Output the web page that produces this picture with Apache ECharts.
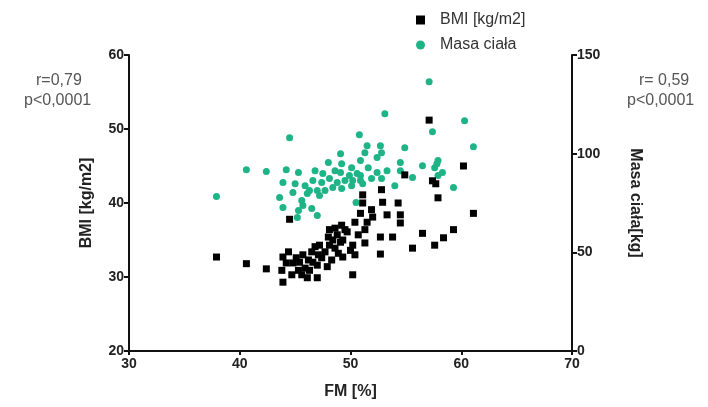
<!DOCTYPE html>
<html>
<head>
<meta charset="utf-8">
<script src="https://cdn.jsdelivr.net/npm/echarts@6/dist/echarts.min.js"></script>
<style>
html,body{margin:0;padding:0;background:#fff;}
#c{width:708px;height:407px;}
</style>
</head>
<body>
<div id="c"></div>
<script>
// FM [%] and BMI [kg/m2] (black squares)
var fmBMI = [37.9,40.6,42.4,44.5,43.9,43.8,44.4,43.9,44.8,45.3,45.6,46.1,46.2,46.5,46.8,47.0,47.4,47.7,48.1,48.0,48.8,49.1,48.9,48.3,47.9,47.0,48.1,49.5,49.3,49.7,50.2,49.3,50.4,50.4,50.7,50.9,51.1,51.1,51.3,51.3,51.5,51.9,52.0,52.8,52.9,53.3,54.3,54.5,54.5,52.7,53.8,52.7,50.2,54.9,55.6,56.5,57.1,57.4,57.7,57.9,58.4,57.6,59.3,60.2,61.1,45.1,45.9,46.3,47.2,48.6,50.0,44.7,45.4,44.2,45.7,47.1,46.6,48.4,48.6,49.2];
var bmi   = [32.7,31.8,31.1,37.8,29.3,30.9,33.4,32.7,31.9,30.9,30.3,29.9,32.3,33.4,34.1,31.6,32.6,33.4,34.3,35.4,35.7,34.7,33.2,32.3,31.4,29.9,36.4,36.4,35.0,36.1,34.3,32.7,33.0,37.4,35.7,38.6,41.1,40.0,36.4,34.6,37.4,39.1,38.1,41.8,40.1,38.4,40.0,38.4,37.3,35.4,35.4,33.1,30.3,43.8,33.9,35.9,51.2,43.0,42.6,40.7,35.3,34.3,36.4,45.0,38.6,32.6,31.2,30.9,34.3,33.9,33.6,30.3,32.0,31.9,33.0,33.0,32.0,35.0,36.6,37.0];
// FM [%] and body mass [kg] (green circles)
var fmMass = [37.9,40.6,42.4,44.5,44.2,45.3,43.9,45.0,43.6,44.8,43.9,45.3,45.6,45.7,46.5,47.0,46.1,46.3,47.0,47.7,48.4,49.2,46.6,47.4,48.1,48.8,49.5,50.1,50.9,46.8,47.5,48.0,48.6,49.1,49.2,50.1,50.6,50.8,50.5,53.1,57.4,51.5,52.7,51.3,52.8,54.9,50.9,52.4,54.5,56.5,57.8,51.6,54.5,52.4,53.3,50.9,51.9,50.2,52.8,55.6,54.0,51.1,57.1,60.3,61.1,57.9,57.6,58.3,57.9,59.3,45.2,45.9,47.2,49.1,49.9];
var mass   = [78.3,91.9,90.9,108.1,91.9,90.4,85.4,84.8,77.8,80.3,72.7,71.2,76.3,73.7,72.2,68.7,79.8,81.3,81.3,81.3,82.8,82.3,86.4,85.4,87.4,85.4,86.4,83.8,86.4,91.4,89.9,95.5,91.4,100.0,94.9,92.9,89.9,109.6,75.3,120.2,111.1,104.0,104.0,100.5,100.5,103.0,96.5,98.0,95.5,93.9,94.9,92.9,91.4,90.4,91.4,88.9,87.4,86.4,87.4,87.9,83.8,84.8,136.4,116.7,103.5,96.5,92.9,90.4,88.9,82.8,67.7,83.8,78.8,90.4,88.9];

var seriesNames = ['BMI [kg/m2]', 'Masa ciała'];
var xTicks = [30, 40, 50, 60, 70];
var yLeftTicks = [20, 30, 40, 50, 60];
var yRightTicks = [0, 50, 100, 150];

function pairs(xs, ys){ return xs.map(function(x,i){ return [x, ys[i]]; }); }

var chart = echarts.init(document.getElementById('c'), null, {renderer:'canvas'});
var axisFont = 'Liberation Sans, Arial, sans-serif';
var green = '#1fb487';

chart.setOption({
  animation: false,
  backgroundColor: '#ffffff',
  grid: {left: 129, right: 136, top: 55, bottom: 56, containLabel: false},
  legend: {
    data: [{name: seriesNames[0], icon: 'rect'}, {name: seriesNames[1], icon: 'circle'}],
    orient: 'vertical', left: 411, top: 7,
    itemWidth: 9, itemHeight: 9, itemGap: 9,
    textStyle: {fontFamily: axisFont, fontSize: 16, color: '#333', padding: [0,0,0,10]}
  },
  xAxis: {
    type: 'value', min: xTicks[0], max: xTicks[xTicks.length-1], interval: 10,
    name: 'FM [%]', nameLocation: 'middle', nameGap: 33,
    nameTextStyle: {fontFamily: axisFont, fontSize: 16, fontWeight: 'bold', color: '#222'},
    axisLine: {show: true, onZero: false, lineStyle: {color: '#111', width: 2}},
    axisTick: {show: true, length: 4, lineStyle: {color: '#111', width: 2}},
    axisLabel: {fontFamily: axisFont, fontSize: 14, fontWeight: 'bold', color: '#222', margin: 6},
    splitLine: {show: false}
  },
  yAxis: [{
    type: 'value', min: yLeftTicks[0], max: yLeftTicks[yLeftTicks.length-1], interval: 10,
    position: 'left',
    name: 'BMI [kg/m2]', nameLocation: 'middle', nameGap: 34,
    nameTextStyle: {fontFamily: axisFont, fontSize: 16, fontWeight: 'bold', color: '#222'},
    axisLine: {show: true, onZero: false, lineStyle: {color: '#111', width: 2}},
    axisTick: {show: true, length: 5, lineStyle: {color: '#111', width: 2}},
    axisLabel: {fontFamily: axisFont, fontSize: 14, fontWeight: 'bold', color: '#222', margin: 5},
    splitLine: {show: false}
  }, {
    type: 'value', min: yRightTicks[0], max: yRightTicks[yRightTicks.length-1], interval: 50,
    position: 'right',
    name: 'Masa ciała[kg]', nameLocation: 'middle', nameGap: 55, nameRotate: -90,
    nameTextStyle: {fontFamily: axisFont, fontSize: 16, fontWeight: 'bold', color: '#222'},
    axisLine: {show: true, onZero: false, lineStyle: {color: '#111', width: 2}},
    axisTick: {show: true, length: 5, lineStyle: {color: '#111', width: 2}},
    axisLabel: {fontFamily: axisFont, fontSize: 14, fontWeight: 'bold', color: '#222', margin: 5},
    splitLine: {show: false}
  }],
  series: [{
    name: seriesNames[1], type: 'scatter', yAxisIndex: 1,
    symbol: 'circle', symbolSize: 7, z: 2,
    itemStyle: {color: green, opacity: 1},
    data: pairs(fmMass, mass)
  }, {
    name: seriesNames[0], type: 'scatter', yAxisIndex: 0,
    symbol: 'rect', symbolSize: 7, z: 3,
    itemStyle: {color: '#000', opacity: 1},
    data: pairs(fmBMI, bmi)
  }],
  graphic: [
    {type: 'text', left: 36, top: 73, style: {text: 'r=0,79', font: '16px Liberation Sans, Arial, sans-serif', fill: '#555'}},
    {type: 'text', left: 24, top: 93, style: {text: 'p<0,0001', font: '16px Liberation Sans, Arial, sans-serif', fill: '#555'}},
    {type: 'text', left: 639, top: 73, style: {text: 'r= 0,59', font: '16px Liberation Sans, Arial, sans-serif', fill: '#555'}},
    {type: 'text', left: 627, top: 93, style: {text: 'p<0,0001', font: '16px Liberation Sans, Arial, sans-serif', fill: '#555'}}
  ]
});
</script>
</body>
</html>
